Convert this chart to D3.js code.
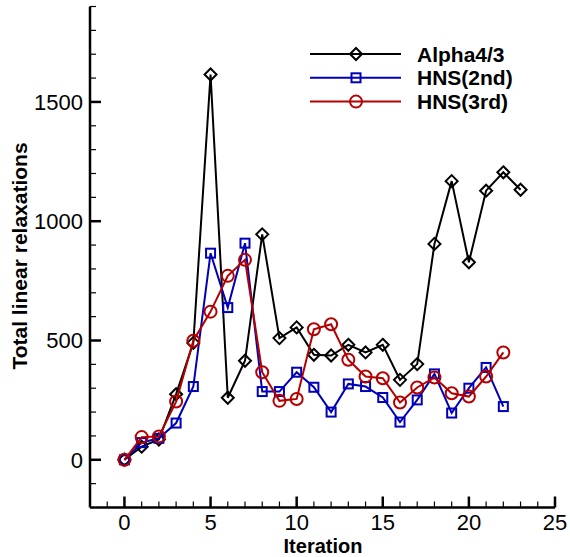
<!DOCTYPE html>
<html>
<head>
<meta charset="utf-8">
<script src="https://cdn.jsdelivr.net/npm/d3@7"></script>
<style>
  body { margin: 0; background: #fff; }
  svg text { font-family: "Liberation Sans", Arial, sans-serif; }
</style>
</head>
<body>
<div id="chart"></div>
<script>
// data
const alphaVals = [0, 55, 85, 275, 490, 1615, 260, 415, 945, 510, 555, 440, 437, 482, 450, 482, 335, 401, 905, 1168, 828, 1128, 1205, 1132];
const hns2Vals = [0, 72, 90, 154, 307, 866, 638, 908, 286, 286, 367, 304, 200, 318, 307, 261, 158, 251, 360, 196, 300, 387, 223];
const hns3Vals = [0, 95, 98, 244, 499, 621, 771, 838, 367, 247, 255, 547, 568, 419, 349, 342, 240, 303, 345, 279, 265, 349, 450];
const seriesNames = ["Alpha4/3", "HNS(2nd)", "HNS(3rd)"];
const xTicks = [0, 5, 10, 15, 20, 25];
const yTicks = [0, 500, 1000, 1500];

const width = 570;
const height = 557;

const svg = d3.select("#chart")
  .append("svg")
  .attr("width", width)
  .attr("height", height);

// scales
const x = d3.scaleLinear().domain([-2, 25]).range([90, 555]);
const y = d3.scaleLinear().domain([-200, 1900]).range([507.5, 6.5]);

const series = [
  { name: seriesNames[0], values: alphaVals, color: "#000000", marker: "diamond" },
  { name: seriesNames[1], values: hns2Vals, color: "#0000b8", marker: "square" },
  { name: seriesNames[2], values: hns3Vals, color: "#b40000", marker: "circle" }
];

// draw a marker into g at (cx, cy)
function drawMarker(g, type, cx, cy, color) {
  if (type === "diamond") {
    const r = 6;
    g.append("path")
      .attr("d", `M${cx},${cy - r}L${cx + r},${cy}L${cx},${cy + r}L${cx - r},${cy}Z`)
      .attr("fill", "none").attr("stroke", color).attr("stroke-width", 2);
  } else if (type === "square") {
    const h = 4.5;
    g.append("rect")
      .attr("x", cx - h).attr("y", cy - h)
      .attr("width", 2 * h).attr("height", 2 * h)
      .attr("fill", "none").attr("stroke", color).attr("stroke-width", 2);
  } else {
    g.append("circle")
      .attr("cx", cx).attr("cy", cy).attr("r", 6)
      .attr("fill", "none").attr("stroke", color).attr("stroke-width", 2);
  }
}

// axes: ticks point inward
const gx = svg.append("g").attr("transform", `translate(0, ${y(-200)})`);
gx.append("line").attr("x1", x(-2)).attr("x2", x(25)).attr("y1", 0).attr("y2", 0)
  .attr("stroke", "#000").attr("stroke-width", 2.5);
gx.selectAll(".xtick").data(d3.range(-1, 26)).enter().append("line")
  .attr("x1", d => x(d)).attr("x2", d => x(d))
  .attr("y1", 0).attr("y2", d => d % 5 === 0 ? -11 : -6)
  .attr("stroke", "#000").attr("stroke-width", d => d % 5 === 0 ? 2.5 : 1.2);
gx.selectAll(".xlab").data(xTicks).enter().append("text")
  .attr("x", d => x(d)).attr("y", 22)
  .attr("text-anchor", "middle")
  .attr("font-size", "22px")
  .text(d => d);

const gy = svg.append("g").attr("transform", `translate(${x(-2)}, 0)`);
gy.append("line").attr("x1", 0).attr("x2", 0).attr("y1", y(-200)).attr("y2", y(1900))
  .attr("stroke", "#000").attr("stroke-width", 2.5);
gy.selectAll(".ytick").data(d3.range(-100, 2000, 100)).enter().append("line")
  .attr("x1", 0).attr("x2", d => d % 500 === 0 ? 11 : 6)
  .attr("y1", d => y(d)).attr("y2", d => y(d))
  .attr("stroke", "#000").attr("stroke-width", d => d % 500 === 0 ? 2.5 : 1.2);
gy.selectAll(".ylab").data(yTicks).enter().append("text")
  .attr("x", -7).attr("y", d => y(d))
  .attr("dy", "0.36em")
  .attr("text-anchor", "end")
  .attr("font-size", "22px")
  .text(d => d);

// axis titles
svg.append("text")
  .attr("x", 323).attr("y", 553)
  .attr("text-anchor", "middle")
  .attr("font-size", "20px").attr("font-weight", "bold")
  .text("Iteration");
svg.append("text")
  .attr("transform", `translate(27, 256) rotate(-90)`)
  .attr("text-anchor", "middle")
  .attr("font-size", "21px").attr("font-weight", "bold")
  .text("Total linear relaxations");

// lines + markers
const line = d3.line().x((d, i) => x(i)).y(d => y(d));
series.forEach(s => {
  svg.append("path")
    .datum(s.values)
    .attr("d", line)
    .attr("fill", "none")
    .attr("stroke", s.color)
    .attr("stroke-width", 2);
  const g = svg.append("g");
  s.values.forEach((v, i) => drawMarker(g, s.marker, x(i), y(v), s.color));
});

// legend
const legend = svg.append("g");
series.forEach((s, i) => {
  const ly = 54 + i * 23.8;
  legend.append("line")
    .attr("x1", 310).attr("x2", 401).attr("y1", ly).attr("y2", ly)
    .attr("stroke", s.color).attr("stroke-width", 2);
  drawMarker(legend, s.marker, 356, ly, s.color);
  legend.append("text")
    .attr("x", 417).attr("y", ly).attr("dy", "0.36em")
    .attr("font-size", "21px").attr("font-weight", "bold")
    .text(s.name);
});
</script>
</body>
</html>
